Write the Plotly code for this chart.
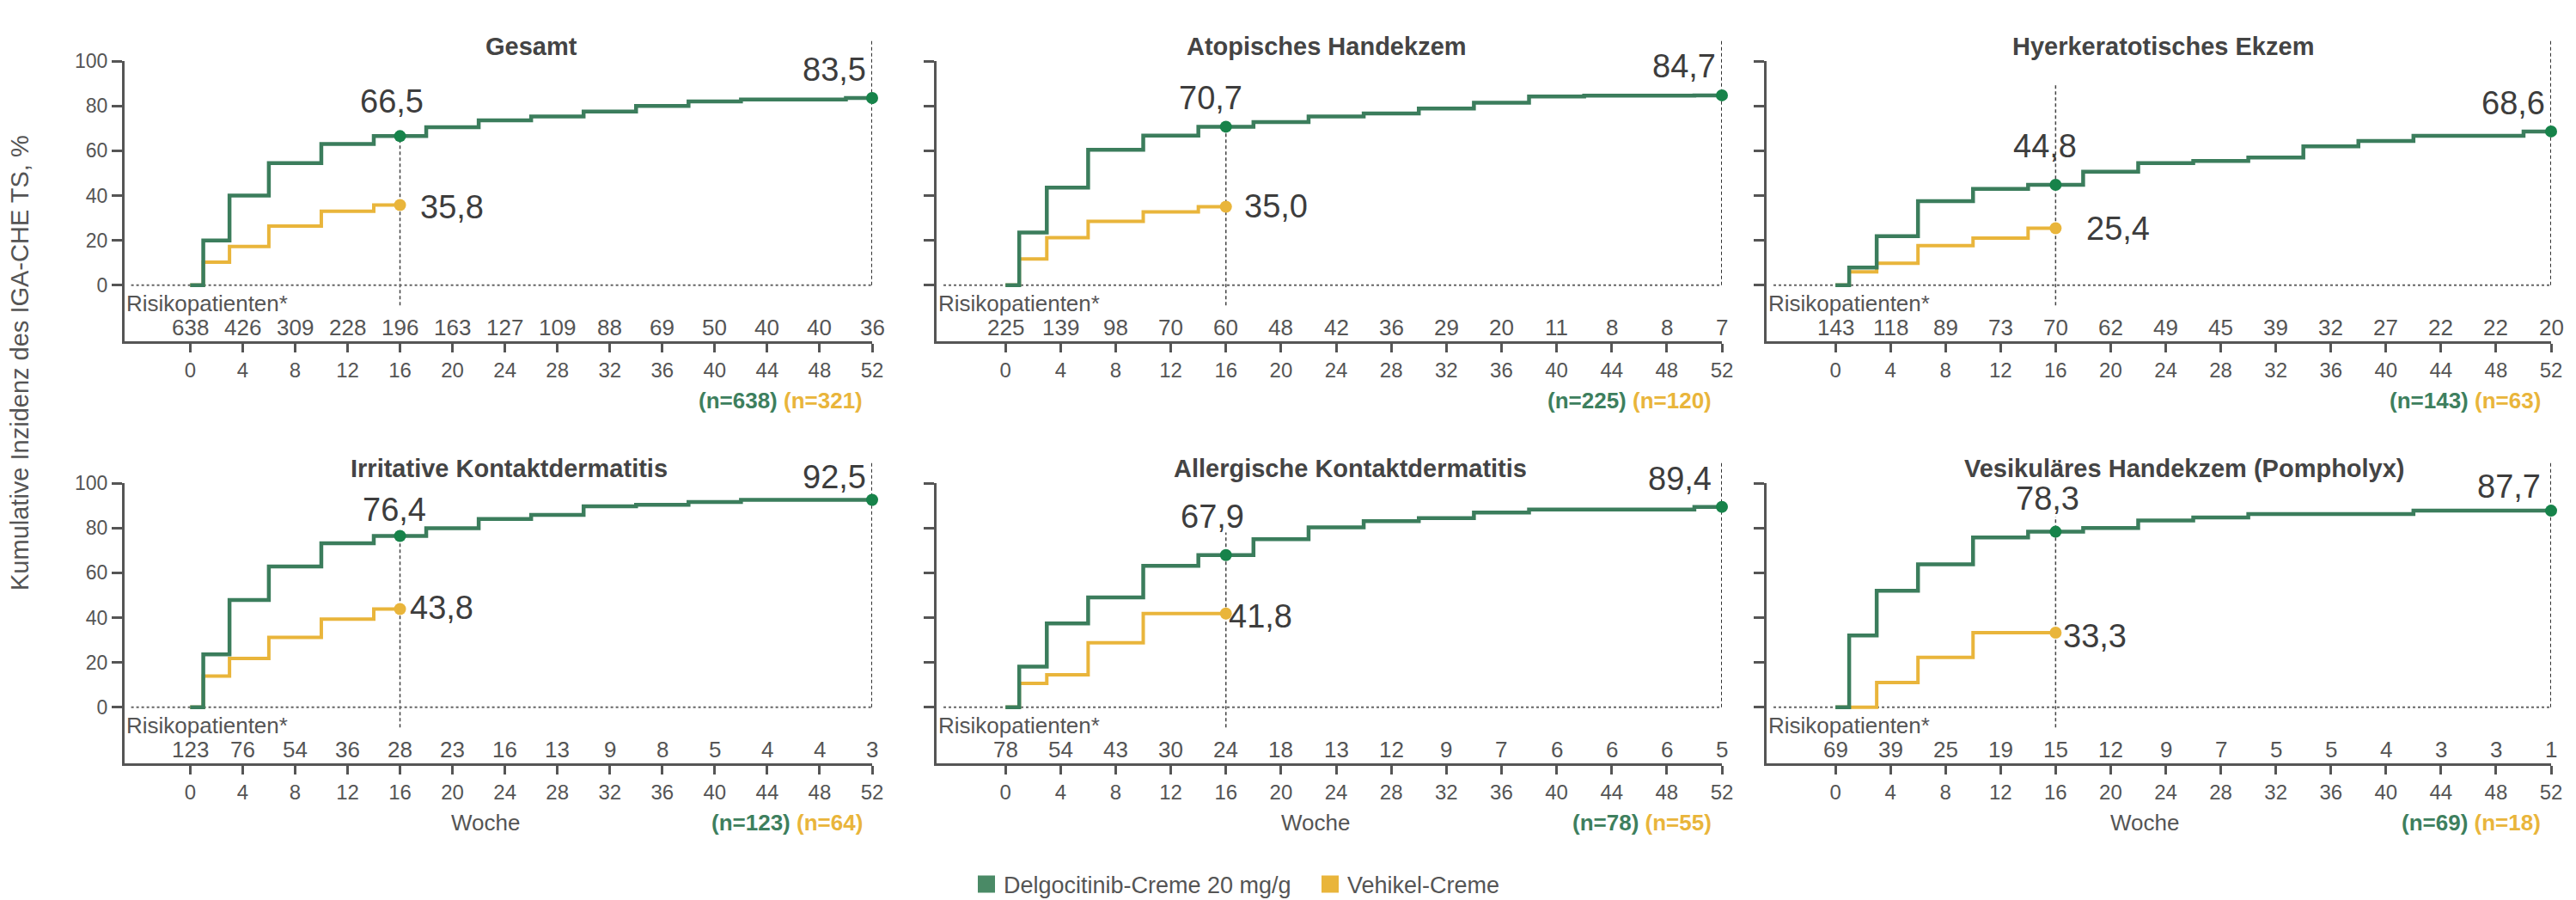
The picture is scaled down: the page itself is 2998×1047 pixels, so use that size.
import plotly.graph_objects as go

W, H = 2998, 1047

# ---------------- data ----------------
panel_titles = ["Gesamt", "Atopisches Handekzem", "Hyerkeratotisches Ekzem",
                "Irritative Kontaktdermatitis", "Allergische Kontaktdermatitis",
                "Vesikuläres Handekzem (Pompholyx)"]

weeks_green = [0, 1, 3, 6, 10, 14, 16, 18, 22, 26, 30, 34, 38, 42, 46, 50, 52]
weeks_vehicle = [0, 1, 3, 6, 10, 14, 16]

green_gesamt = [0, 20, 40, 54.5, 63, 66.5, 66.5, 70.5, 73.5, 75.3, 77.5, 80, 82, 82.8, 82.8, 83.5, 83.5]
green_atop = [0, 23.5, 43.5, 60.4, 66.7, 70.7, 70.7, 72.8, 75.3, 76.6, 78.8, 81.4, 84.2, 84.6, 84.6, 84.7, 84.7]
green_hyper = [0, 7.9, 21.9, 37.5, 43, 44.8, 44.8, 50.6, 54.5, 55.4, 57, 61.9, 64.3, 66.6, 66.6, 68.6, 68.6]
green_irrit = [0, 23.6, 47.9, 62.8, 73.2, 76.4, 76.4, 79.9, 84, 85.8, 89.6, 90.3, 91.6, 92.5, 92.5, 92.5, 92.5]
green_allerg = [0, 18.1, 37.4, 49, 63.1, 67.9, 67.9, 75, 80.3, 83, 84.4, 86.9, 88.2, 88.2, 88.2, 89.4, 89.4]
green_vesik = [0, 32, 52, 63.8, 75.7, 78.3, 78.3, 80, 83.3, 84.7, 86.2, 86.2, 86.2, 87.7, 87.7, 87.7, 87.7]

vehicle_gesamt = [0, 10.3, 17.3, 26.4, 33, 35.8, 35.8]
vehicle_atop = [0, 11.7, 21.2, 28.5, 32.7, 35.0, 35.0]
vehicle_hyper = [0, 6, 9.8, 17.7, 21, 25.4, 25.4]
vehicle_irrit = [0, 13.9, 21.8, 31.2, 39.3, 43.8, 43.8]
vehicle_allerg = [0, 10.7, 14.5, 28.8, 41.8, 41.8, 41.8]
vehicle_vesik = [0, 0, 11, 22.3, 33.3, 33.3, 33.3]

tick_weeks = [0, 4, 8, 12, 16, 20, 24, 28, 32, 36, 40, 44, 48, 52]
y_ticks = [0, 20, 40, 60, 80, 100]

risk_gesamt = [638, 426, 309, 228, 196, 163, 127, 109, 88, 69, 50, 40, 40, 36]
risk_atop = [225, 139, 98, 70, 60, 48, 42, 36, 29, 20, 11, 8, 8, 7]
risk_hyper = [143, 118, 89, 73, 70, 62, 49, 45, 39, 32, 27, 22, 22, 20]
risk_irrit = [123, 76, 54, 36, 28, 23, 16, 13, 9, 8, 5, 4, 4, 3]
risk_allerg = [78, 54, 43, 30, 24, 18, 13, 12, 9, 7, 6, 6, 6, 5]
risk_vesik = [69, 39, 25, 19, 15, 12, 9, 7, 5, 5, 4, 3, 3, 1]

n_green = [638, 225, 143, 123, 78, 69]
n_vehicle = [321, 120, 63, 64, 55, 18]

legend_names = ["Delgocitinib-Creme 20 mg/g", "Vehikel-Creme"]

greens = [green_gesamt, green_atop, green_hyper, green_irrit, green_allerg, green_vesik]
vehicles = [vehicle_gesamt, vehicle_atop, vehicle_hyper, vehicle_irrit, vehicle_allerg, vehicle_vesik]
risks = [risk_gesamt, risk_atop, risk_hyper, risk_irrit, risk_allerg, risk_vesik]

# ---------------- styles / layout ----------------
FONT = "Liberation Sans, Arial, sans-serif"
GREEN = "#3b7d5c"
GREEN_DOT = "#17834a"
GREEN_TXT = "#3e7f5e"
YELLOW = "#e9b53b"
AXC = "#555555"
TXT = "#555555"
VAL = "#3d3d3d"

OFF = 8  # default page margin of the html body
col_px = [(145, 1015), (1090, 2004), (2056, 2969)]   # screen px: y-axis line .. week 52
row_px = [(71, 397), (562, 888)]                      # screen px: value 100 .. x-axis line
XR = [-5, 52]
YR = [-25, 100]
SPAN = YR[1] - YR[0]


def px_x(p):
    return (p - OFF) / W


def px_y(p):
    return 1 - (p - OFF) / H


# annotation placement per panel (in axis units): title x, green16 label, green52 label, vehicle label, top of wk16 line
label_pos = [
    dict(tx=26.0, g16=(15.4, 82), g52=(51.7, 96), v16=(17.4, 35), top16=66.5),
    dict(tx=23.3, g16=(14.9, 83.6), g52=(51.7, 97.6), v16=(17.2, 35.2), top16=70.7),
    dict(tx=23.8, g16=(15.2, 62), g52=(51.7, 81.2), v16=(18.1, 25.1), top16=90),
    dict(tx=24.3, g16=(15.6, 88.2), g52=(51.7, 102.8), v16=(16.6, 44.4), top16=76.4),
    dict(tx=25.0, g16=(15.0, 85.1), g52=(51.4, 101.8), v16=(16.1, 40.6), top16=78),
    dict(tx=25.4, g16=(15.4, 93.0), g52=(51.4, 98.3), v16=(16.4, 31.8), top16=85),
]


def fmt(v):
    return f"{v:.1f}".replace(".", ",")


def yd(v):
    """axis value -> fraction of the y domain (lets text sit outside the range)"""
    return (v - YR[0]) / SPAN


fig = go.Figure()
annotations = []
shapes = []
layout_axes = {}

for i in range(6):
    r, c = divmod(i, 3)
    k = i + 1
    xa = "x" if k == 1 else f"x{k}"
    ya = "y" if k == 1 else f"y{k}"
    yref_d = f"{ya} domain"
    xkey = "xaxis" if k == 1 else f"xaxis{k}"
    ykey = "yaxis" if k == 1 else f"yaxis{k}"
    x0, x1 = col_px[c]
    ytop, ybot = row_px[r]

    layout_axes[xkey] = dict(
        domain=[px_x(x0), px_x(x1)], range=XR, anchor=ya,
        showline=True, linecolor=AXC, linewidth=3, mirror=False,
        ticks="outside", ticklen=10, tickwidth=2.5, tickcolor=AXC,
        tickvals=tick_weeks, ticktext=[str(t) for t in tick_weeks],
        tickfont=dict(family=FONT, size=24, color=TXT),
        showgrid=False, zeroline=False, fixedrange=True,
    )
    layout_axes[ykey] = dict(
        domain=[px_y(ybot), px_y(ytop)], range=YR, anchor=xa,
        showline=True, linecolor=AXC, linewidth=3,
        ticks="outside", ticklen=12, tickwidth=2.5, tickcolor=AXC,
        tickvals=y_ticks, showticklabels=(c == 0),
        tickfont=dict(family=FONT, size=23, color=TXT),
        showgrid=False, zeroline=False, fixedrange=True,
    )

    g = greens[i]
    v = vehicles[i]
    fig.add_trace(go.Scatter(x=weeks_vehicle, y=v, mode="lines",
                             line=dict(shape="hv", color=YELLOW, width=4),
                             xaxis=xa, yaxis=ya, showlegend=False, cliponaxis=False,
                             hoverinfo="skip"))
    fig.add_trace(go.Scatter(x=weeks_green, y=g, mode="lines",
                             line=dict(shape="hv", color=GREEN, width=4.5),
                             xaxis=xa, yaxis=ya, showlegend=False, cliponaxis=False,
                             hoverinfo="skip"))
    i16 = weeks_green.index(16)
    fig.add_trace(go.Scatter(x=[weeks_vehicle[-1]], y=[v[-1]], mode="markers",
                             marker=dict(color=YELLOW, size=14),
                             xaxis=xa, yaxis=ya, showlegend=False, cliponaxis=False))
    fig.add_trace(go.Scatter(x=[weeks_green[i16], weeks_green[-1]], y=[g[i16], g[-1]],
                             mode="markers", marker=dict(color=GREEN_DOT, size=14),
                             xaxis=xa, yaxis=ya, showlegend=False, cliponaxis=False))

    lp = label_pos[i]
    # reference lines
    shapes.append(dict(type="line", xref=xa, yref=ya, x0=-4.5, x1=52, y0=0, y1=0,
                       line=dict(color="#666666", width=2, dash="dot"), layer="below"))
    shapes.append(dict(type="line", xref=xa, yref=yref_d, x0=16, x1=16, y0=yd(-9), y1=yd(lp["top16"]),
                       line=dict(color="#444444", width=1.5, dash="4px,3px"), layer="below"))
    shapes.append(dict(type="line", xref=xa, yref=yref_d, x0=52, x1=52, y0=yd(0), y1=yd(110),
                       line=dict(color="#333333", width=2, dash="4px,3px"), layer="below"))

    # title
    annotations.append(dict(x=lp["tx"], y=yd(106.5), xref=xa, yref=yref_d,
                            text=f"<b>{panel_titles[i]}</b>",
                            showarrow=False, xanchor="center", yanchor="middle",
                            font=dict(family=FONT, size=29, color="#444444")))
    # value labels
    annotations.append(dict(x=lp["g16"][0], y=yd(lp["g16"][1]), xref=xa, yref=yref_d, text=fmt(g[i16]),
                            showarrow=False, xanchor="center", yanchor="middle",
                            font=dict(family=FONT, size=38, color=VAL)))
    annotations.append(dict(x=lp["g52"][0], y=yd(lp["g52"][1]), xref=xa, yref=yref_d, text=fmt(g[-1]),
                            showarrow=False, xanchor="right", yanchor="middle",
                            font=dict(family=FONT, size=38, color=VAL)))
    annotations.append(dict(x=lp["v16"][0], y=yd(lp["v16"][1]), xref=xa, yref=yref_d, text=fmt(v[-1]),
                            showarrow=False, xanchor="left", yanchor="middle",
                            font=dict(family=FONT, size=38, color=VAL)))
    # risk table
    annotations.append(dict(x=-5, y=yd(-8), xref=xa, yref=yref_d, text="Risikopatienten*",
                            showarrow=False, xanchor="left", yanchor="middle",
                            font=dict(family=FONT, size=26, color=TXT)))
    for wk, n in zip(tick_weeks, risks[i]):
        annotations.append(dict(x=wk, y=yd(-19), xref=xa, yref=yref_d, text=str(n),
                                showarrow=False, xanchor="center", yanchor="middle",
                                font=dict(family=FONT, size=26, color=TXT)))
    # n labels
    annotations.append(dict(x=51.4, y=yd(-51.5), xref=xa, yref=yref_d,
                            text=f"<b><span style='color:{GREEN_TXT}'>(n={n_green[i]})</span> "
                                 f"<span style='color:{YELLOW}'>(n={n_vehicle[i]})</span></b>",
                            showarrow=False, xanchor="right", yanchor="middle",
                            font=dict(family=FONT, size=26, color=GREEN_TXT)))
    if r == 1:
        annotations.append(dict(x=22.5, y=yd(-51.5), xref=xa, yref=yref_d, text="Woche",
                                showarrow=False, xanchor="center", yanchor="middle",
                                font=dict(family=FONT, size=26, color=TXT)))

# y-axis title
annotations.append(dict(x=px_x(23), y=px_y(422), xref="paper", yref="paper",
                        text="Kumulative Inzidenz des IGA-CHE TS, %", textangle=-90,
                        showarrow=False, xanchor="center", yanchor="middle",
                        font=dict(family=FONT, size=29, color=TXT)))

# legend entries
fig.add_trace(go.Scatter(x=[None], y=[None], mode="markers", name=legend_names[0],
                         marker=dict(symbol="square", size=16, color="#4a8a66",
                                     line=dict(color="#4a8a66", width=4))))
fig.add_trace(go.Scatter(x=[None], y=[None], mode="markers", name=legend_names[1],
                         marker=dict(symbol="square", size=16, color=YELLOW,
                                     line=dict(color=YELLOW, width=4))))

fig.update_layout(
    width=W, height=H,
    margin=dict(l=0, r=0, t=0, b=0, autoexpand=False),
    paper_bgcolor="white", plot_bgcolor="white",
    showlegend=True,
    legend=dict(orientation="h", x=px_x(1128), y=px_y(1029), xanchor="left", yanchor="middle",
                font=dict(family=FONT, size=27, color=TXT), entrywidth=355,
                bgcolor="rgba(0,0,0,0)"),
    annotations=annotations, shapes=shapes,
    **layout_axes,
)

fig.write_html("out.html")
